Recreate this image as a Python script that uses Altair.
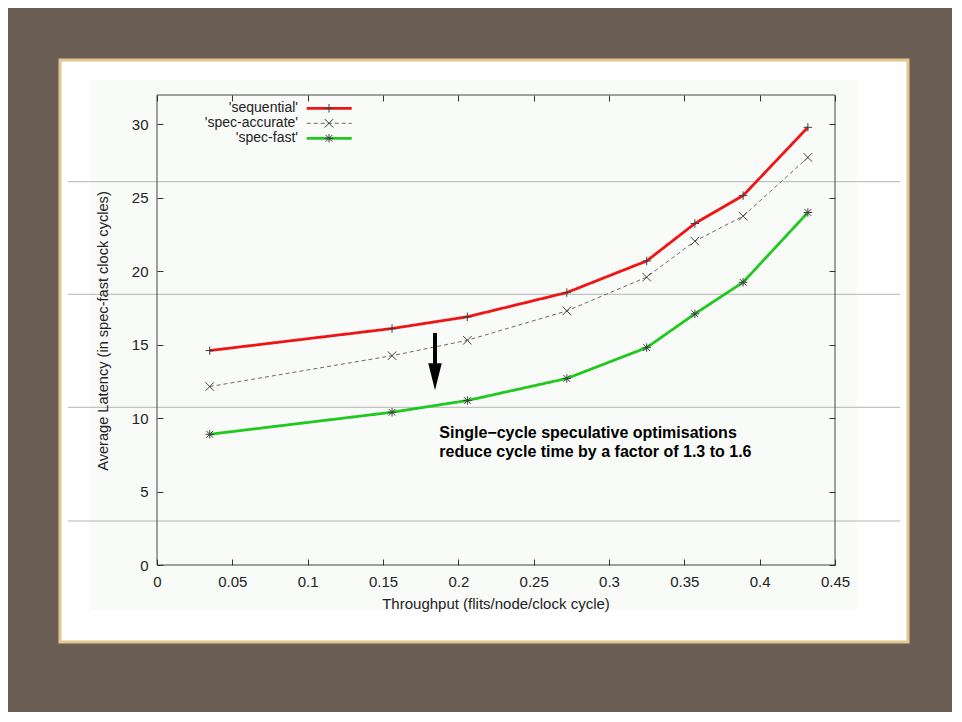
import altair as alt
import pandas as pd

# ---------------- data ----------------
series = ["'sequential'", "'spec-accurate'", "'spec-fast'"]
throughput = [0.035, 0.156, 0.206, 0.272, 0.325, 0.357, 0.389, 0.432]
sequential = [14.6, 16.1, 16.9, 18.55, 20.7, 23.25, 25.15, 29.8]
spec_accurate = [12.15, 14.25, 15.3, 17.3, 19.6, 22.05, 23.75, 27.75]
spec_fast = [8.9, 10.4, 11.2, 12.7, 14.8, 17.1, 19.25, 24.0]

x_ticks = [0, 0.05, 0.1, 0.15, 0.2, 0.25, 0.3, 0.35, 0.4, 0.45]
y_ticks = [0, 5, 10, 15, 20, 25, 30]

x_title = "Throughput (flits/node/clock cycle)"
y_title = "Average Latency (in spec-fast clock cycles)"
note_lines = ["Single\u2212cycle speculative optimisations",
              "reduce cycle time by a factor of 1.3 to 1.6"]
note_x = [0.1874, 0.1874]
note_y = [8.98, 7.71]
arrow_x = [0.1845]
arrow_top = [15.8]
arrow_base = [13.7]
arrow_head_mid = [12.82]

# ---------------- styles ----------------
FONT = "Liberation Sans"
RED = "#f01414"
GREEN = "#20c820"
GRAY = "#6a6a6a"
MARK = "#404040"
BROWN = "#695d54"
TAN = "#e3c690"
PLOT_BG = "#f9fbf9"

PLUS = "M-1,0L1,0M0,-1L0,1"
CROSS = "M-1,-1L1,1M-1,1L1,-1"
STAR = "M-1,0L1,0M0,-1L0,1M-0.8,-0.8L0.8,0.8M-0.8,0.8L0.8,-0.8"

W, H = 678, 470

rows = []
for name, vals in zip(series, [sequential, spec_accurate, spec_fast]):
    for xv, yv in zip(throughput, vals):
        rows.append({"series": name, "throughput": xv, "latency": yv})
df = pd.DataFrame(rows)
one = pd.DataFrame({"k": [0]})

xscale = alt.Scale(domain=[0, 0.45], nice=False, zero=False)
yscale = alt.Scale(domain=[0, 32], nice=False, zero=False)

common_axis = dict(grid=False, domain=False, tickSize=6, offset=-6,
                   tickColor="#333333", tickWidth=1, zindex=1, title=None,
                   labelFont=FONT, labelFontSize=15, labelColor="#222222")

bottom_axis = alt.Axis(orient="bottom", values=x_ticks, format="~g",
                       labelPadding=9, labelFlush=False, **common_axis)
left_axis = alt.Axis(orient="left", values=y_ticks, format="d",
                     labelPadding=9, **common_axis)
top_axis = alt.Axis(orient="top", values=x_ticks, labels=False, **common_axis)
right_axis = alt.Axis(orient="right", values=y_ticks, labels=False, **common_axis)

# ---------------- slide decoration ----------------
panel = alt.Chart(one).mark_rect(fill="white", stroke=TAN, strokeWidth=3).encode(
    x=alt.value(-97), x2=alt.value(751), y=alt.value(-35), y2=alt.value(547))
chart_bg = alt.Chart(one).mark_rect(fill=PLOT_BG).encode(
    x=alt.value(-67), x2=alt.value(700), y=alt.value(-15), y2=alt.value(515))
slide_lines = [
    alt.Chart(one).mark_rule(color="#b4b4b4", strokeWidth=1).encode(
        x=alt.value(-89), x2=alt.value(743), y=alt.value(yy))
    for yy in [86.7, 199.3, 312.3, 426]
]
frame = alt.Chart(one).mark_rect(fill="transparent", stroke="#444444", strokeWidth=1).encode(
    x=alt.value(0), x2=alt.value(W), y=alt.value(0), y2=alt.value(H))

# ---------------- data marks ----------------
line_colors = [RED, GRAY, GREEN]
line_dash = [[1, 0], [4, 3], [1, 0]]
line_width = [2.8, 1, 2.8]

line_layers = []
for i, name in enumerate(series):
    ax = dict(axis=bottom_axis) if i == 0 else dict(axis=None)
    ay = dict(axis=left_axis) if i == 0 else dict(axis=None)
    line_layers.append(
        alt.Chart(df).transform_filter(alt.datum.series == name).mark_line(
            color=line_colors[i], strokeDash=line_dash[i], strokeWidth=line_width[i]
        ).encode(
            x=alt.X("throughput:Q", scale=xscale, **ax),
            y=alt.Y("latency:Q", scale=yscale, **ay),
        )
    )

points = alt.Chart(df).mark_point(filled=False, stroke=MARK, strokeWidth=1, size=72, opacity=1).encode(
    x=alt.X("throughput:Q", scale=xscale, axis=top_axis),
    y=alt.Y("latency:Q", scale=yscale, axis=right_axis),
    shape=alt.Shape("series:N", scale=alt.Scale(domain=series, range=[PLUS, CROSS, STAR]), legend=None),
)

# ---------------- annotation ----------------
arrow_df = pd.DataFrame({"x": arrow_x, "top": arrow_top, "base": arrow_base, "mid": arrow_head_mid})
shaft = alt.Chart(arrow_df).mark_rule(color="black", strokeWidth=4).encode(
    x=alt.X("x:Q", scale=xscale, axis=None),
    y=alt.Y("top:Q", scale=yscale, axis=None), y2="base:Q")
head = alt.Chart(arrow_df).mark_point(shape="M-0.5,-1L0.5,-1L0,1Z", filled=True, color="black",
                                      size=729, opacity=1).encode(
    x=alt.X("x:Q", scale=xscale, axis=None),
    y=alt.Y("mid:Q", scale=yscale, axis=None))

note_df = pd.DataFrame({"x": note_x, "y": note_y, "t": note_lines})
note = alt.Chart(note_df).mark_text(align="left", baseline="middle", font=FONT, fontSize=16,
                                    fontWeight="bold", color="black").encode(
    x=alt.X("x:Q", scale=xscale, axis=None),
    y=alt.Y("y:Q", scale=yscale, axis=None),
    text="t:N")

# ---------------- legend (gnuplot key) ----------------
legend_layers = []
key_shape = [PLUS, CROSS, STAR]
for i, name in enumerate(series):
    yy = 13.3 + 15 * i
    legend_layers.append(
        alt.Chart(one).mark_text(align="right", baseline="middle", font=FONT, fontSize=14,
                                 color="#222222").encode(
            x=alt.value(141), y=alt.value(yy), text=alt.value(name)))
    legend_layers.append(
        alt.Chart(one).mark_rule(color=line_colors[i], strokeWidth=line_width[i],
                                 strokeDash=line_dash[i]).encode(
            x=alt.value(149.7), x2=alt.value(194.7), y=alt.value(yy)))
    legend_layers.append(
        alt.Chart(one).mark_point(shape=key_shape[i], filled=False, stroke=MARK, strokeWidth=1,
                                  size=72, opacity=1).encode(
            x=alt.value(172), y=alt.value(yy)))

# ---------------- axis titles ----------------
xt = alt.Chart(one).mark_text(align="center", baseline="middle", font=FONT, fontSize=15,
                              color="#222222").encode(
    x=alt.value(339), y=alt.value(509), text=alt.value(x_title))
yt = alt.Chart(one).mark_text(align="center", baseline="middle", font=FONT, fontSize=14.6,
                              color="#222222", angle=270).encode(
    x=alt.value(-53), y=alt.value(236), text=alt.value(y_title))

chart = alt.layer(
    panel, chart_bg, *slide_lines, frame, *line_layers, points, shaft, head, note,
    *legend_layers, xt, yt
).resolve_axis(
    x="independent", y="independent"
).properties(
    width=W, height=H,
    padding={"left": 149, "top": 87, "right": 117, "bottom": 147},
    autosize=alt.AutoSizeParams(type="none"),
    background=BROWN,
).configure_view(stroke=None)

chart.save("out.html", embed_options={"renderer": "svg", "actions": False})
